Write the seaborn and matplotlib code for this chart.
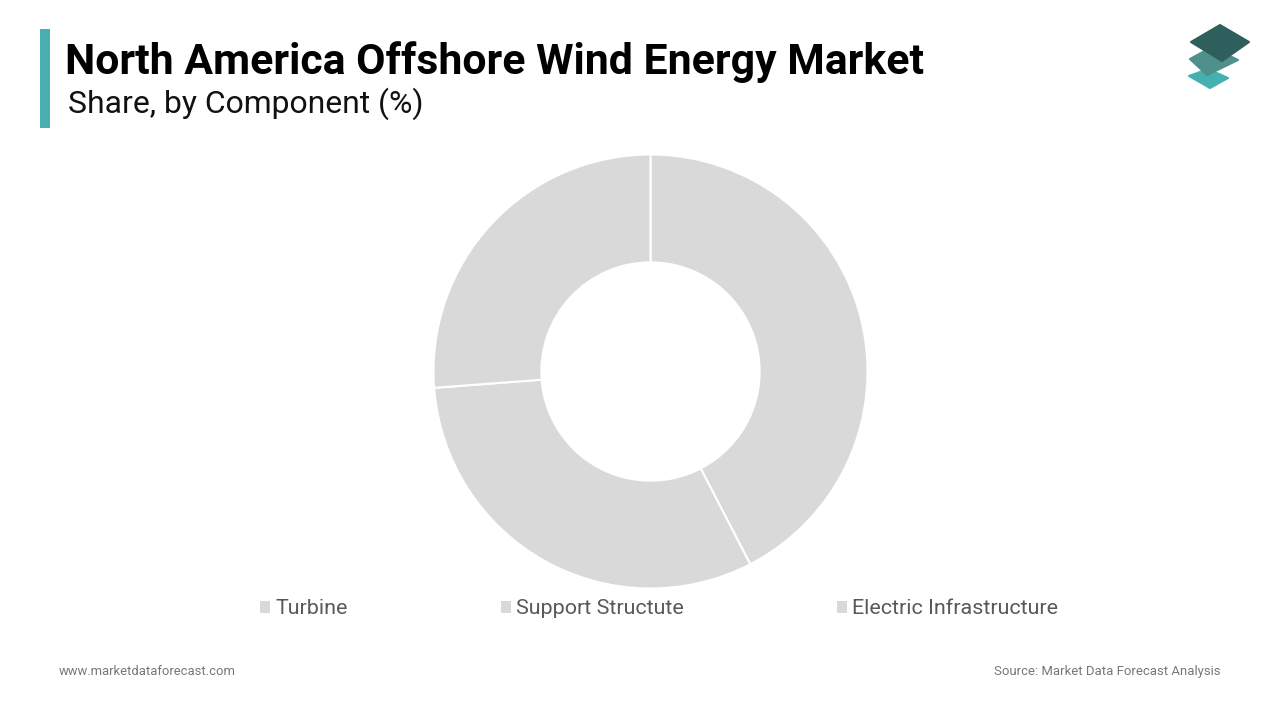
import matplotlib
matplotlib.use("Agg")
import matplotlib.pyplot as plt
from matplotlib.patches import Polygon, Rectangle
import seaborn as sns

title = "North America Offshore Wind Energy Market"
subtitle = "Share, by Component (%)"
components = ["Turbine", "Support Structute", "Electric Infrastructure"]
shares = [42.4, 31.4, 26.2]
slice_colors = ["#d9d9d9", "#d9d9d9", "#d9d9d9"]
footer_left = "www.marketdataforecast.com"
footer_right = "Source: Market Data Forecast Analysis"

sns.set_theme(style="white")
plt.rcParams["font.family"] = ["Roboto", "DejaVu Sans"]

W, H = 1280, 720
fig = plt.figure(figsize=(W / 100, H / 100), dpi=100, facecolor="white")

# overlay in pixel coordinates for the page furniture
bg = fig.add_axes([0, 0, 1, 1])
bg.set_xlim(0, W)
bg.set_ylim(H, 0)
bg.axis("off")
bg.add_patch(Rectangle((40, 29), 10, 99, color="#4aaeae", lw=0))
bg.text(65, 62, title, fontsize=30.75, fontweight="bold", color="#000000", va="center", ha="left")
bg.text(67.5, 104, subtitle, fontsize=22.95, color="#111111", va="center", ha="left")
bg.text(59, 671.5, footer_left, fontsize=9.4, color="#777777", va="center", ha="left")
bg.text(1221, 671, footer_right, fontsize=9.45, color="#777777", va="center", ha="right")

# logo
for pts, col in [
    ([(1208, 69), (1228, 78), (1210, 88), (1189, 76)], "#45b0b0"),
    ([(1212, 47), (1238, 60), (1207, 75), (1190, 59)], "#4f8f8c"),
    ([(1220, 25), (1249, 42), (1222, 61), (1191, 42)], "#2f5f5d"),
]:
    bg.add_patch(Polygon(pts, closed=True, facecolor=col, edgecolor=col, lw=1.5, joinstyle="round"))

# donut
R = 217
cx, cy = 650.5, 371.5
ax = fig.add_axes([(cx - R) / W, 1 - (cy + R) / H, 2 * R / W, 2 * R / H])
wedges, _ = ax.pie(
    shares,
    colors=slice_colors,
    startangle=90,
    counterclock=False,
    radius=1.0,
    wedgeprops=dict(width=0.497, edgecolor="white", linewidth=1.5),
)
ax.set_xlim(-1, 1)
ax.set_ylim(-1, 1)
ax.set_aspect("equal")

leg = fig.legend(
    wedges,
    components,
    loc="center left",
    bbox_to_anchor=(260 / W, 1 - 609 / H),
    ncol=3,
    frameon=False,
    fontsize=15.45,
    labelcolor="#595959",
    handlelength=0.46,
    handleheight=0.46,
    handletextpad=0.24,
    columnspacing=7.15,
    borderpad=0,
    borderaxespad=0,
)
for h in leg.legend_handles:
    h.set_edgecolor("none")

fig.savefig("out.png", dpi=100, facecolor="white")
